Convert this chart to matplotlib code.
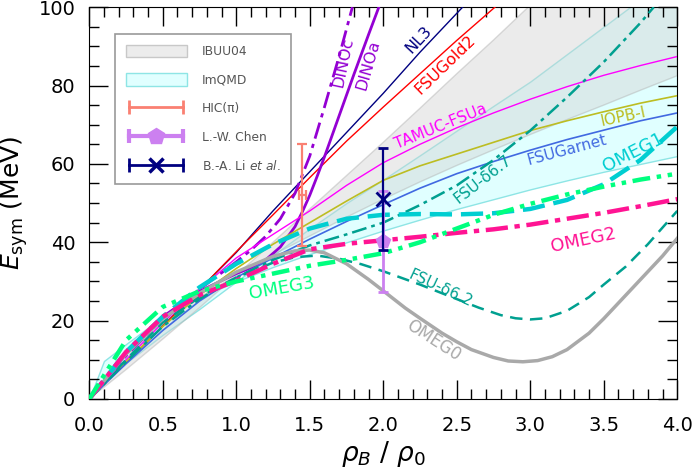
import numpy as np
import matplotlib
matplotlib.use("Agg")
import matplotlib.pyplot as plt
from matplotlib.lines import Line2D
from matplotlib.patches import Patch
from matplotlib.legend_handler import HandlerLine2D, HandlerTuple
from matplotlib.ticker import MultipleLocator

# ---- bands ----
ibuu_x = [0, 0.25, 0.5, 0.75, 1.0, 1.25, 1.5, 1.75, 2.0, 2.25, 2.5, 2.75, 3.0, 3.25, 3.5, 3.75, 4.0]
ibuu_lo = [0, 11.5, 19.5, 26, 31.6, 36.8, 41.6, 46.4, 51, 55.4, 59.6, 63.6, 67.5, 71.3, 75, 78.8, 82.5]
ibuu_hi = [0, 7.5, 15.3, 23.3, 31.6, 40, 48.5, 57, 65.5, 74.2, 83, 91.6, 100.5, 109, 118, 127, 136]

imqmd_x = [0, 0.1, 0.25, 0.5, 0.75, 1.0, 1.25, 1.5, 1.75, 2.0, 2.25, 2.5, 2.75, 3.0, 3.25, 3.5, 3.75, 4.0]
imqmd_lo = [0, 9.7, 14, 21, 26, 30, 33.7, 37, 40, 43, 45.8, 48.5, 51, 53.5, 55.8, 58, 60, 62]
imqmd_hi = [0, 4.3, 9.2, 16.4, 23, 30, 36.7, 43.5, 50, 56, 62.2, 68.5, 74.8, 81, 88, 95, 102, 109]

# ---- model curves ----
nl3_x = [0, 0.25, 0.5, 0.7, 1.0, 1.25, 1.5, 1.75, 2.0, 2.25, 2.54]
nl3_y = [0, 9.3, 18.6, 26, 37.4, 48, 58, 68, 78, 88.5, 100]

fsug2_x = [0, 0.25, 0.5, 0.7, 1.0, 1.25, 1.5, 1.75, 2.0, 2.25, 2.5, 2.76]
fsug2_y = [0, 9.3, 18.6, 26, 37.6, 47, 56.5, 65.8, 74.5, 83, 91.5, 100]

dinoa_x = [0, 0.25, 0.5, 0.75, 1.0, 1.1, 1.2, 1.3, 1.4, 1.45, 1.5, 1.55, 1.6, 1.7, 1.8, 1.9, 1.97]
dinoa_y = [0, 11.5, 21, 27.5, 32, 33.5, 35.5, 38.8, 44, 47.8, 52, 56.8, 61.8, 72.3, 82.8, 93, 100]

dinoc_x = [0, 0.25, 0.5, 0.75, 1.0, 1.1, 1.2, 1.3, 1.4, 1.5, 1.6, 1.7, 1.79]
dinoc_y = [0, 11, 20.5, 28, 35, 38, 41.5, 46, 52.5, 62, 74.5, 87.5, 100]

tamuc_x = [0, 0.25, 0.5, 0.75, 1.0, 1.25, 1.5, 1.75, 2.0, 2.25, 2.5, 2.75, 3.0, 3.25, 3.5, 3.75, 4.0]
tamuc_y = [0, 10, 19.5, 28, 36, 42, 48, 54.5, 60.3, 65, 69.2, 73, 76.5, 79.7, 82.6, 85.1, 87.4]

iopb_x = [0, 0.25, 0.5, 0.75, 1.0, 1.25, 1.5, 1.75, 2.0, 2.25, 2.5, 2.75, 3.0, 3.25, 3.5, 3.75, 4.0]
iopb_y = [0, 9.5, 18.5, 26.5, 33.3, 39.5, 45, 50.5, 55.8, 59.5, 62.5, 65.5, 68.5, 71, 73.3, 75.5, 77.4]

garnet_x = [0, 0.25, 0.5, 0.75, 1.0, 1.25, 1.5, 1.75, 2.0, 2.25, 2.5, 2.75, 3.0, 3.25, 3.5, 3.75, 4.0]
garnet_y = [0, 9, 17.5, 25, 31, 36, 40.8, 45.3, 49.6, 53.8, 57.5, 60.6, 63.5, 66.2, 68.6, 71, 73]

d67_x = [0, 0.25, 0.5, 0.75, 1.0, 1.25, 1.5, 1.75, 2.0, 2.25, 2.5, 2.75, 3.0, 3.25, 3.5, 3.75, 3.84]
d67_y = [0, 9.5, 18.5, 25.5, 31, 35.5, 39.2, 42, 45, 49.5, 54.5, 61, 68.5, 77, 86, 96, 100]

d62_x = [0, 0.25, 0.5, 0.75, 1.0, 1.25, 1.4, 1.55, 1.7, 1.85, 2.0, 2.25, 2.5, 2.65, 2.8, 2.9, 3.0,
         3.1, 3.25, 3.4, 3.5, 3.65, 3.8, 4.0]
d62_y = [0, 10, 19.5, 26, 31, 34.8, 36.2, 36.6, 35.8, 34.4, 32.6, 29.2, 25.5, 23.3, 21.4, 20.6, 20.3,
         20.6, 22.5, 26, 29.2, 33.8, 39.5, 48]

omeg0_x = [0, 0.25, 0.5, 0.75, 1.0, 1.25, 1.4, 1.5, 1.6, 1.75, 1.9, 2.0, 2.15, 2.25, 2.4, 2.5, 2.6,
           2.75, 2.85, 2.95, 3.05, 3.15, 3.25, 3.4, 3.5, 3.65, 3.75, 3.9, 4.0]
omeg0_y = [0, 11.5, 20.5, 27, 32.4, 36.4, 37.8, 38, 37.3, 34.5, 30.5, 27.6, 23.2, 20.6, 16.8, 14.6, 12.6,
           10.6, 9.7, 9.5, 9.8, 10.8, 12.6, 16.8, 20.5, 26.5, 30.5, 36.5, 41]

omeg1_x = [0, 0.25, 0.5, 0.75, 1.0, 1.25, 1.5, 1.75, 2.0, 2.25, 2.5, 2.75, 3.0, 3.25, 3.5, 3.75, 4.0]
omeg1_y = [0, 12, 21, 28.5, 34.5, 39.5, 43.5, 46, 47, 47.2, 47.1, 47.4, 48.5, 50.8, 54.8, 61, 69.5]

omeg2_x = [0, 0.25, 0.5, 0.75, 1.0, 1.25, 1.5, 1.75, 2.0, 2.25, 2.5, 2.75, 3.0, 3.25, 3.5, 3.75, 4.0]
omeg2_y = [0, 12, 21, 26.5, 30.2, 34.5, 38.2, 39.6, 40.5, 41.4, 42.4, 43.3, 44.5, 46, 47.5, 49.2, 51]

omeg3_x = [0, 0.25, 0.5, 0.75, 1.0, 1.25, 1.5, 1.75, 2.0, 2.25, 2.5, 2.75, 3.0, 3.25, 3.5, 3.75, 4.0]
omeg3_y = [0, 15, 23.5, 27.5, 30, 32, 34, 35.5, 37.2, 40, 43.5, 47, 49.8, 52.2, 54.2, 56, 57.5]

# ---- constraints ----
hic_x, hic_y, hic_dy, hic_dx = 1.45, 52, 13, 0.025
chen_x, chen_y, chen_dy = 2.0, 40.2, 12.8
li_x, li_y, li_dy = 2.0, 51, 13

fig = plt.figure(figsize=(6.92, 4.75), dpi=100)
ax = fig.add_axes([0.129, 0.16, 0.8497, 0.825])

ax.fill_between(imqmd_x, imqmd_lo, imqmd_hi, facecolor="#e0ffff", edgecolor="#8ee5e5", lw=1, zorder=1)
ax.fill_between(ibuu_x, ibuu_lo, ibuu_hi, facecolor="#d3d3d3", alpha=0.45, edgecolor="#b0b0b0", lw=1, zorder=1.5)

ax.plot(nl3_x, nl3_y, color="navy", lw=1, zorder=3)
ax.plot(fsug2_x, fsug2_y, color="red", lw=1, zorder=3)
ax.plot(dinoa_x, dinoa_y, color="darkviolet", lw=2, zorder=3)
ax.plot(dinoc_x, dinoc_y, color="darkviolet", lw=2, ls=(0, (6, 2, 1.5, 2)), zorder=3)
ax.plot(tamuc_x, tamuc_y, color="magenta", lw=1, zorder=3)
ax.plot(iopb_x, iopb_y, color="#bcbd22", lw=1.2, zorder=3)
ax.plot(garnet_x, garnet_y, color="royalblue", lw=1.2, zorder=3)
ax.plot(d67_x, d67_y, color="#00a090", lw=1.8, ls=(0, (6, 2, 1.5, 2)), zorder=3)
ax.plot(d62_x, d62_y, color="#00a090", lw=1.8, ls=(0, (5, 3)), zorder=3)
ax.plot(omeg0_x, omeg0_y, color="darkgrey", lw=2.5, zorder=3)
ax.plot(omeg1_x, omeg1_y, color="darkturquoise", lw=3.2, ls=(0, (5, 2)), zorder=3)
ax.plot(omeg2_x, omeg2_y, color="deeppink", lw=3.2, ls=(0, (5, 1.5, 1.2, 1.5)), zorder=3)
ax.plot(omeg3_x, omeg3_y, color="springgreen", lw=3.2, ls=(0, (4, 1.5, 1, 1.5, 1, 1.5)), zorder=3)

ax.errorbar(hic_x, hic_y, yerr=hic_dy, xerr=hic_dx, color="salmon", lw=1.6, capsize=3.5, capthick=1.6, fmt="none", zorder=4)
ax.errorbar(chen_x, chen_y, yerr=chen_dy, color="#cc80f0", lw=2, capsize=3.5, capthick=2, fmt="p", ms=10, zorder=4)
ax.errorbar(li_x, li_y, yerr=li_dy, color="navy", lw=1.6, capsize=3.5, capthick=1.6, fmt="x", ms=10, mew=2, zorder=5)

# curve labels
lab = [
    ("DINOc", 1.73, 85.8, 78, "darkviolet", 11.5),
    ("DINOa", 1.90, 85.3, 74, "darkviolet", 11.5),
    ("NL3", 2.24, 91.7, 47, "navy", 11.5),
    ("FSUGold2", 2.42, 85.3, 44, "red", 11.5),
    ("TAMUC-FSUa", 2.39, 69.5, 22, "magenta", 11),
    ("IOPB-I", 3.63, 72.0, 12, "#bcbd22", 11),
    ("FSUGarnet", 3.25, 63.6, 15, "royalblue", 11),
    ("OMEG1", 3.70, 62.8, 27, "darkturquoise", 13),
    ("FSU-δ6.7", 2.68, 56.0, 38, "#00a090", 11),
    ("OMEG2", 3.36, 40.6, 12, "deeppink", 13),
    ("OMEG3", 1.31, 28.3, 10, "springgreen", 13),
    ("FSU-δ6.2", 2.39, 28.3, -25, "#00a090", 11),
    ("OMEG0", 2.34, 15.0, -33, "darkgrey", 12),
]
for t, x, y, r, c, fs in lab:
    ax.text(x, y, t, rotation=r, color=c, fontsize=fs, ha="center", va="center",
            rotation_mode="anchor", zorder=6)

ax.set_xlim(0, 4)
ax.set_ylim(0, 100)
ax.xaxis.set_major_locator(MultipleLocator(0.5))
ax.xaxis.set_minor_locator(MultipleLocator(0.1))
ax.yaxis.set_major_locator(MultipleLocator(20))
ax.yaxis.set_minor_locator(MultipleLocator(5))
ax.tick_params(which="both", direction="in", top=True, right=True)
ax.tick_params(which="major", length=14, width=1, labelsize=14)
ax.tick_params(which="minor", length=7, width=1)
ax.tick_params(axis="x", which="major", pad=12)
ax.tick_params(axis="y", which="major", pad=10)
ax.set_xlabel(r"$\rho_B$ / $\rho_0$", fontsize=19, labelpad=3)
ax.set_ylabel(r"$E_{\rm sym}$ (MeV)", fontsize=18, labelpad=6)

# legend proxies
h_ibuu = Patch(facecolor="#ececec", edgecolor="#c8c8c8")
h_imq = Patch(facecolor="#e0ffff", edgecolor="#8ee5e5")
h_hic = Line2D([], [], color="salmon", lw=2, marker="|", ms=10, mew=2)
chen_bar = Line2D([], [], color="#cc80f0", lw=3, marker="|", ms=10, mew=3)
chen_mk = Line2D([], [], color="#cc80f0", marker="p", ms=12, ls="none")
li_bar = Line2D([], [], color="navy", lw=2, marker="|", ms=10, mew=2)
li_mk = Line2D([], [], color="navy", marker="x", ms=10, mew=2.5, ls="none")
leg = ax.legend([h_ibuu, h_imq, h_hic, (chen_bar, chen_mk), (li_bar, li_mk)],
                ["IBUU04", "ImQMD", "HIC(π)", "L.-W. Chen", r"B.-A. Li $\it{et\ al.}$"],
                handler_map={chen_mk: HandlerLine2D(numpoints=1), li_mk: HandlerLine2D(numpoints=1),
                             (chen_bar, chen_mk): HandlerTuple(ndivide=1), (li_bar, li_mk): HandlerTuple(ndivide=1)},
                numpoints=2, loc="upper left", bbox_to_anchor=(0.033, 0.948), fontsize=8.8,
                handlelength=5.0, handleheight=1.2, handletextpad=1.2, labelspacing=1.25,
                borderpad=0.9, fancybox=False, edgecolor="#999999", labelcolor="#555555",
                framealpha=1)
leg.get_frame().set_linewidth(1.2)
leg.set_zorder(10)

fig.savefig("out.png", dpi=100)
